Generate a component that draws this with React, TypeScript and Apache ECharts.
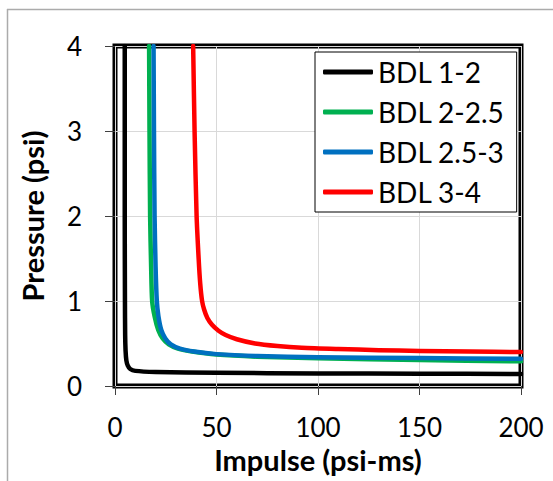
import React, { useEffect, useRef } from "react";
import * as echarts from "echarts";

const seriesNames = ["BDL 1-2", "BDL 2-2.5", "BDL 2.5-3", "BDL 3-4"];
const seriesColors = ["#000000", "#00B050", "#0070C0", "#FF0000"];

const bdl12: [number, number][] = [
  [4.8, 4], [4.8, 2], [4.9, 1], [5.0, 0.6], [5.2, 0.42], [5.6, 0.3], [6.3, 0.24],
  [7.5, 0.2], [10, 0.178], [20, 0.165], [50, 0.155], [100, 0.148], [150, 0.145], [200, 0.142],
];
const bdl225: [number, number][] = [
  [16.8, 4], [17.0, 3], [17.3, 2], [17.8, 1.4], [18.3, 1.0], [19.5, 0.82], [21.3, 0.66],
  [23.5, 0.56], [26.5, 0.49], [31, 0.44], [38, 0.405], [50, 0.37], [70, 0.345],
  [100, 0.325], [150, 0.305], [200, 0.29],
];
const bdl253: [number, number][] = [
  [19, 4], [19.2, 3], [19.5, 2], [20.0, 1.4], [20.6, 1.0], [21.4, 0.82], [22.8, 0.66],
  [24.8, 0.56], [27.5, 0.49], [32, 0.44], [39, 0.405], [50, 0.375], [70, 0.352],
  [100, 0.338], [150, 0.328], [200, 0.32],
];
const bdl34: [number, number][] = [
  [38.5, 4], [39.2, 3], [40.2, 2], [41.2, 1.5], [42.0, 1.2], [42.9, 1.0], [43.9, 0.9],
  [45.5, 0.8], [47.8, 0.72], [51, 0.65], [54.5, 0.6], [60, 0.55], [69, 0.5], [80, 0.47],
  [92, 0.45], [110, 0.435], [130, 0.422], [150, 0.412], [175, 0.405], [200, 0.4],
];
const seriesData = [bdl12, bdl225, bdl253, bdl34];

const xTicks = [0, 50, 100, 150, 200];
const yTicks = [0, 1, 2, 3, 4];

const FONT = "Lato, 'Noto Sans', sans-serif";

export default function App() {
  const ref = useRef<HTMLDivElement>(null);
  useEffect(() => {
    if (!ref.current) return;
    const chart = echarts.init(ref.current, null, { renderer: "svg" });
    chart.setOption({
      animation: false,
      backgroundColor: "#ffffff",
      textStyle: { fontFamily: FONT },
      grid: {
        left: 115,
        top: 46,
        width: 406,
        height: 340,
        show: true,
        borderColor: "#000",
        borderWidth: 5,
        backgroundColor: "transparent",
      },
      graphic: [
        { type: "line", shape: { x1: 7, y1: 9.5, x2: 553, y2: 9.5 }, style: { stroke: "#ababab", lineWidth: 1.5 }, z: 100 },
        { type: "line", shape: { x1: 7.5, y1: 9, x2: 7.5, y2: 481 }, style: { stroke: "#ababab", lineWidth: 1.5 }, z: 100 },
      ],
      legend: {
        orient: "vertical",
        left: 315,
        top: 52,
        backgroundColor: "#fff",
        borderColor: "#000",
        borderWidth: 1,
        padding: [6, 12, 6, 8],
        itemWidth: 50,
        itemHeight: 5,
        itemGap: 12,
        icon: "roundRect",
        textStyle: { fontFamily: FONT, fontSize: 28, color: "#000", lineHeight: 28 },
        data: seriesNames,
      },
      xAxis: {
        type: "value",
        min: 0,
        max: 200,
        interval: 50,
        name: "Impulse (psi-ms)",
        nameLocation: "middle",
        nameGap: 59,
        nameTextStyle: { fontFamily: FONT, fontSize: 29, fontWeight: "bold", color: "#000" },
        axisLine: { show: false },
        axisTick: { show: true, length: 9, lineStyle: { color: "#404040", width: 1 } },
        axisLabel: {
          margin: 28,
          fontFamily: FONT,
          fontSize: 26,
          color: "#000",
          formatter: (v: number) => (xTicks.includes(v) ? String(v) : ""),
        },
        splitLine: { show: true, lineStyle: { color: "#d9d9d9", width: 1 } },
      },
      yAxis: {
        type: "value",
        min: 0,
        max: 4,
        interval: 1,
        name: "Pressure (psi)",
        nameLocation: "middle",
        nameRotate: 90,
        nameGap: 68,
        nameTextStyle: { fontFamily: FONT, fontSize: 29, fontWeight: "bold", color: "#000" },
        axisLine: { show: false },
        axisTick: { show: true, length: 10, lineStyle: { color: "#404040", width: 1 } },
        axisLabel: {
          margin: 33,
          fontFamily: FONT,
          fontSize: 26,
          color: "#000",
          formatter: (v: number) => (yTicks.includes(v) ? String(v) : ""),
        },
        splitLine: { show: true, lineStyle: { color: "#d9d9d9", width: 1 } },
      },
      series: seriesData.map((d, i) => ({
        name: seriesNames[i],
        type: "line",
        data: d,
        showSymbol: false,
        symbol: "none",
        smooth: 0.25,
        color: seriesColors[i],
        lineStyle: { color: seriesColors[i], width: 4.5, cap: "round", join: "round" },
        z: 2 + i,
      })),
    });
    return () => chart.dispose();
  }, []);
  return (
    <div
      ref={ref}
      style={{ position: "fixed", left: 0, top: 0, width: 553, height: 481 }}
    />
  );
}
